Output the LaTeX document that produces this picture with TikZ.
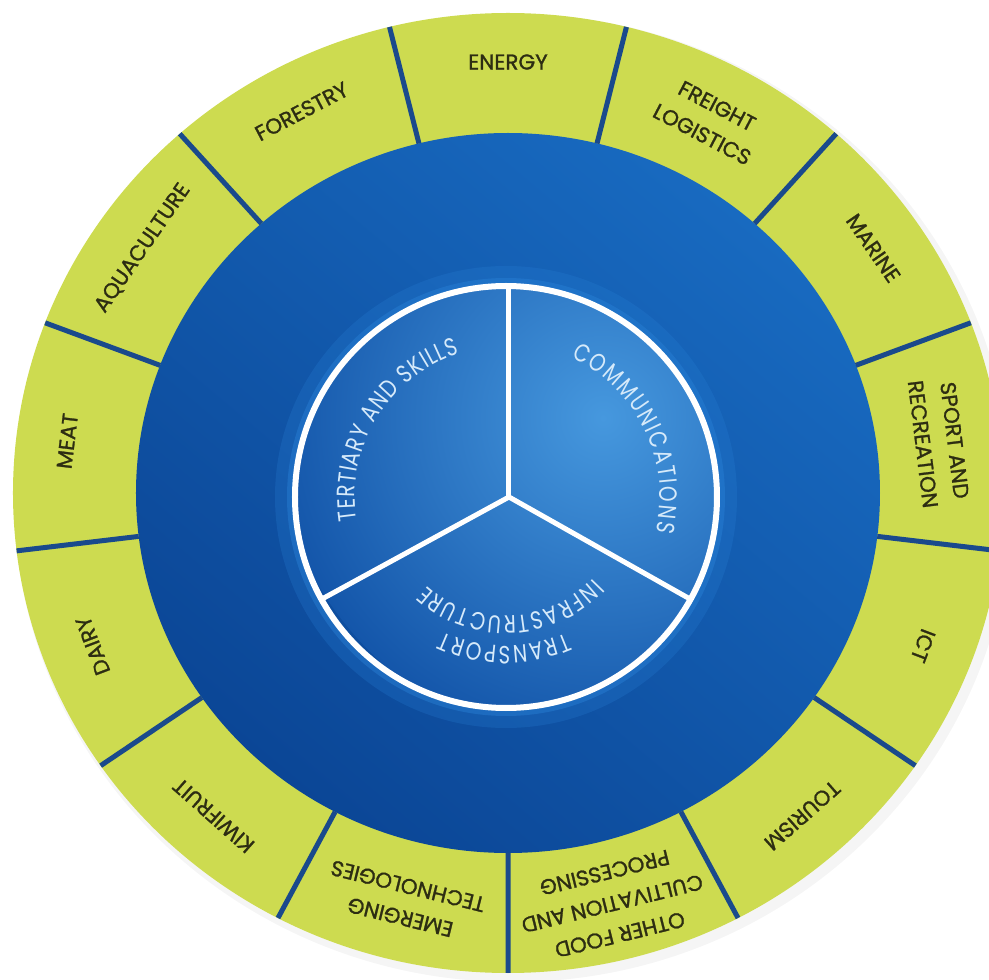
\documentclass[tikz,border=0pt]{standalone}
\usepackage{fontspec}
\setmainfont{Poppins}
\newfontfamily\lblfont{Poppins}[FakeBold=1.2]
\newfontfamily\innerfont{Poppins}[FakeStretch=0.8]
\usetikzlibrary{decorations.text,calc}
\definecolor{ylw}{RGB}{205,219,80}
\definecolor{lbl}{RGB}{45,45,18}
\definecolor{divc}{RGB}{26,74,140}
\definecolor{ringlt}{RGB}{24,106,192}
\definecolor{ringdk}{RGB}{11,70,150}
\definecolor{inlt}{RGB}{70,152,222}
\definecolor{indk}{RGB}{20,86,170}
\definecolor{glowc}{RGB}{40,128,214}
\definecolor{intxt}{RGB}{214,234,250}
\begin{document}
\begin{tikzpicture}[x=1pt,y=1pt,
  seglabel/.style={font=\lblfont\fontsize{21.5}{32}\selectfont, text=lbl, align=center, inner sep=0pt},
  sepline/.style={draw=divc, line width=5pt},
  whiteline/.style={draw=white, line width=5pt, line join=round},
  arctext/.style={decorate, decoration={text along path, text align=fit to path,
     text={|\innerfont\fontsize{25}{25}\selectfont\color{intxt}|#1}}}
]
\useasboundingbox (-508,-487) rectangle (481,493);
\clip (-508,-487) rectangle (481,493);
% shadow and outer ring
\fill[black, opacity=0.04] (5,-5) ellipse [x radius=499, y radius=484];
\fill[ylw] (0,0) ellipse [x radius=495, y radius=480];
% blue ring
\shade[top color=ringlt, bottom color=ringdk, shading angle=-40] (0,0) ellipse [x radius=372, y radius=360];
% dividers of the outer ring
\foreach \k in {0,...,12}{
  \pgfmathsetmacro\t{76.154-27.692*\k}
  \draw[sepline] (\t:372 and 360) -- (\t:495 and 480);
}
% labels of the outer ring
\node[seglabel, rotate=0]      (energy)  at (90:444 and 431)      {ENERGY};
\node[seglabel, rotate=-27.69] (freight) at (62.31:434 and 421)   {FREIGHT\\LOGISTICS};
\node[seglabel, rotate=-55.38] (marine)  at (34.62:444 and 431)   {MARINE};
\node[seglabel, rotate=-83.08] (sport)   at (6.92:434 and 421)    {SPORT AND\\RECREATION};
\node[seglabel, rotate=-110.77] (ict)    at (-20.77:444 and 431)  {ICT};
\node[seglabel, rotate=-138.46] (tourism) at (-48.46:444 and 431) {TOURISM};
\node[seglabel, rotate=-166.15] (food)   at (-76.15:436 and 423)  {OTHER FOOD\\CULTIVATION AND\\PROCESSING};
\node[seglabel, rotate=166.15] (emerg)   at (-103.85:434 and 421) {EMERGING\\TECHNOLOGIES};
\node[seglabel, rotate=138.46] (kiwi)    at (-131.54:444 and 431) {KIWIFRUIT};
\node[seglabel, rotate=110.77] (dairy)   at (-159.23:444 and 431) {DAIRY};
\node[seglabel, rotate=83.08]  (meat)    at (-186.92:444 and 431) {MEAT};
\node[seglabel, rotate=55.38]  (aqua)    at (-214.62:444 and 431) {AQUACULTURE};
\node[seglabel, rotate=27.69]  (forest)  at (-242.31:444 and 431) {FORESTRY};
% inner circle
\coordinate (ic) at (-2,-4);
\coordinate (jn) at (1,-4);
\draw[glowc, line width=20pt, opacity=0.25] (ic) circle (221);
\draw[glowc, line width=8pt, opacity=0.45] (ic) circle (215);
\begin{scope}
  \clip (ic) circle (211);
  \shade[inner color=inlt, outer color=indk] (95,75) circle (330);
\end{scope}
\coordinate (ptop) at (1,206.9);
\coordinate (pll) at ($(ic)+(209:211)$);
\coordinate (plr) at ($(ic)+(-29:211)$);
\draw[whiteline] (pll) -- (jn) -- (plr);
\draw[whiteline] (jn) -- (ptop);
\draw[white, line width=6pt] (ic) circle (211);
% curved texts
\begin{scope}[shift={(ic)}]
  \path[arctext={TERTIARY AND SKILLS}] (189:151) arc[start angle=189, end angle=108, radius=151];
  \path[arctext={COMMUNICATIONS}] (65:154) arc[start angle=65, end angle=-13, radius=154];
  \path[arctext={TRANSPORT}] (-66:149) arc[start angle=-66, end angle=-115, radius=149];
  \path[arctext={INFRASTRUCTURE}] (-43:119) arc[start angle=-43, end angle=-132, radius=119];
\end{scope}
\end{tikzpicture}
\end{document}
